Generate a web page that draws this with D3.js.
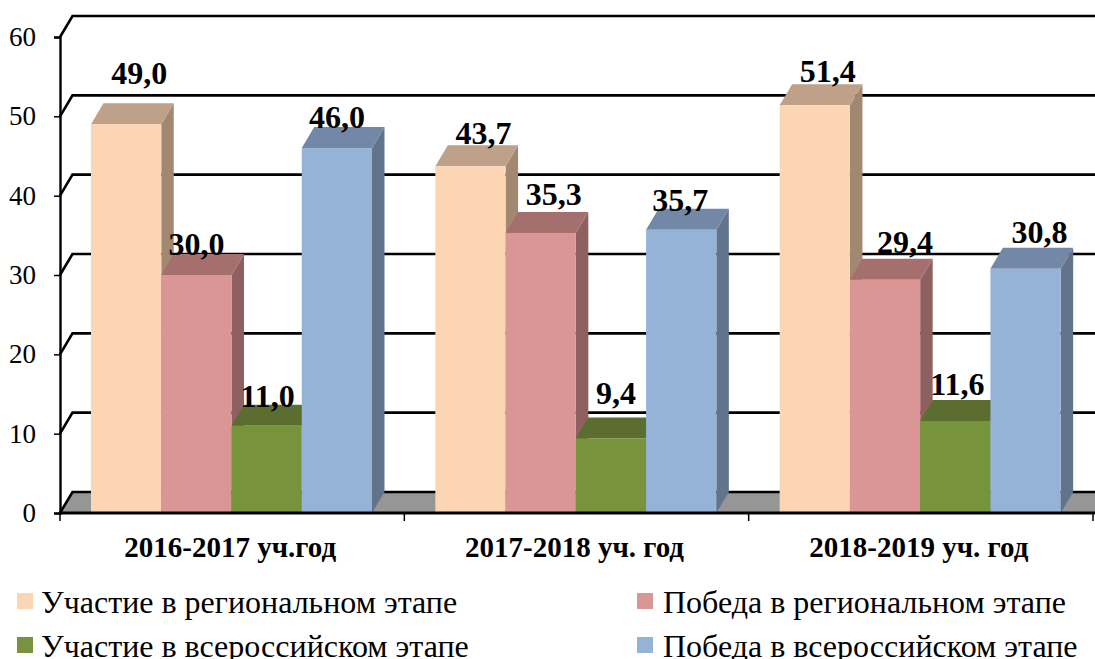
<!DOCTYPE html>
<html><head><meta charset="utf-8">
<script src="https://cdn.jsdelivr.net/npm/d3@7"></script>
<style>html,body{margin:0;padding:0;background:#fff;overflow:hidden}svg{display:block}text{font-family:"Liberation Serif",serif;fill:#000}</style>
</head><body><svg id="c" width="1095" height="659"></svg>
<script>
const categories = ["2016-2017 уч.год", "2017-2018 уч. год", "2018-2019 уч. год"];
const seriesNames = ["Участие в региональном этапе", "Победа в региональном этапе", "Участие в всероссийском этапе", "Победа в всероссийском этапе"];
const regionalPart = [49.0, 43.7, 51.4];
const regionalWin = [30.0, 35.3, 29.4];
const russiaPart = [11.0, 9.4, 11.6];
const russiaWin = [46.0, 35.7, 30.8];
const seriesValues = [regionalPart, regionalWin, russiaPart, russiaWin];
const yTicks = [0, 10, 20, 30, 40, 50, 60];
const frontColors = ["#FCD5B5", "#D99694", "#77933C", "#95B3D7"];
const topColors = ["#BFA088", "#A56F6E", "#5B6E30", "#7387A6"];
const sideColors = ["#A38871", "#8E6160", "#4E5F29", "#62738C"];
// hand placement of the value labels relative to each bar (dx, dy per series per group)
const labelDx = [[13, 13, 13], [0, 13, 20], [1, 5, 2], [0, -1, 14]];
const labelDy = [[-39, -21, -22], [-19, -27, -26], [-18, -33, -25], [-19, -18, -25]];

const svg = d3.select("#c");
const dx = 12.5, dy = -21;
const y = d3.scaleLinear().domain([0, 60]).range([513, 37]);
const x = d3.scaleBand().domain(categories).range([60, 1093]);
const inner = d3.scaleBand().domain(d3.range(4)).range([31, 312]);
const fmt = v => v.toFixed(1).replace(".", ",");

// floor
svg.append("polygon").attr("fill", "#969696")
  .attr("points", [[60, y(0)], [60 + dx, y(0) + dy], [1095, y(0) + dy], [1095, y(0)], [60, y(0)]].join(" "));

// gridlines with the wall diagonal
svg.append("g").selectAll("path").data(yTicks).join("path")
  .attr("fill", "none").attr("stroke", "#000").attr("stroke-width", 2.6)
  .attr("d", d => `M60,${y(d)}L${60 + dx},${y(d) + dy}H1095`);

// y axis
const yAxis = svg.append("g").attr("transform", "translate(60,0)")
  .call(d3.axisLeft(y).tickValues(yTicks).tickSize(6).tickPadding(18));
yAxis.select(".domain").attr("stroke", "#000").attr("stroke-width", 2.4);
yAxis.selectAll(".tick line").attr("stroke", "#000").attr("stroke-width", 1.5);
yAxis.selectAll("text").attr("font-size", 27).attr("font-family", '"Liberation Serif",serif');

// bars
const g = svg.append("g");
categories.forEach((c, ci) => {
  seriesValues.forEach((vals, si) => {
    const x0 = x(c) + inner(si), w = inner.bandwidth(), top = y(vals[ci]), bot = y(0);
    const b = g.append("g");
    b.append("polygon").attr("fill", sideColors[si])
      .attr("points", [[x0 + w, bot], [x0 + w + dx, bot + dy], [x0 + w + dx, top + dy], [x0 + w, top]].join(" "));
    b.append("polygon").attr("fill", topColors[si])
      .attr("points", [[x0, top], [x0 + dx, top + dy], [x0 + w + dx, top + dy], [x0 + w, top]].join(" "));
    b.append("rect").attr("x", x0).attr("y", top).attr("width", w).attr("height", bot - top).attr("fill", frontColors[si]);
  });
});

// x axis
const xAxis = svg.append("g").attr("transform", `translate(-2,${y(0)})`)
  .call(d3.axisBottom(x).tickSize(0).tickPadding(23));
xAxis.select(".domain").remove();
xAxis.selectAll("text").attr("font-size", 29).attr("font-weight", "bold").attr("font-family", '"Liberation Serif",serif');
svg.append("line").attr("x1", 60).attr("x2", 1095).attr("y1", y(0)).attr("y2", y(0)).attr("stroke", "#000").attr("stroke-width", 3);
svg.append("g").selectAll("line").data(d3.range(categories.length + 1)).join("line")
  .attr("x1", i => 60 + i * x.step()).attr("x2", i => 60 + i * x.step())
  .attr("y1", y(0)).attr("y2", y(0) + 8).attr("stroke", "#000").attr("stroke-width", 1.5);

// value labels
categories.forEach((c, ci) => {
  seriesValues.forEach((vals, si) => {
    svg.append("text").attr("text-anchor", "middle").attr("font-weight", "bold").attr("font-size", 32)
      .attr("x", x(c) + inner(si) + inner.bandwidth() / 2 + labelDx[si][ci])
      .attr("y", y(vals[ci]) + labelDy[si][ci] - 1)
      .text(fmt(vals[ci]));
  });
});

// legend
const legCols = [17, 637], legTextCols = [41, 663], legRows = [593, 637];
seriesNames.forEach((n, i) => {
  const lx = legCols[i % 2], ly = legRows[Math.floor(i / 2)];
  svg.append("rect").attr("x", lx).attr("y", ly).attr("width", 16).attr("height", 16).attr("fill", frontColors[i]);
  svg.append("text").attr("x", legTextCols[i % 2]).attr("y", ly + 20).attr("font-size", 32).text(n);
});
</script></body></html>
